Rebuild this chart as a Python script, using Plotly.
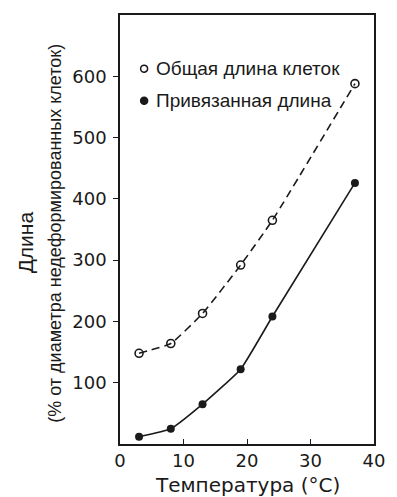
import plotly.graph_objects as go

# Temperature (°C)
temperature = [3, 8, 13, 19, 24, 37]
# Total cell length, % of undeformed cell diameter
total_length = [148, 164, 213, 292, 365, 588]
# Attached length, % of undeformed cell diameter
attached_length = [12, 25, 65, 122, 208, 426]

x_ticks = [0, 10, 20, 30, 40]
y_ticks = [100, 200, 300, 400, 500, 600]
legend_labels = ["Общая длина клеток", "Привязанная длина"]

FONT = "Liberation Sans"
WIDE = "DejaVu Sans"
INK = "#1a1a1a"

fig = go.Figure()

fig.add_trace(go.Scatter(
    x=temperature, y=total_length, mode="lines+markers",
    line=dict(color=INK, width=1.6, dash="8px,5px", shape="spline", smoothing=0.4),
    marker=dict(symbol="circle-open", size=8, color=INK, line=dict(width=1.6)),
    showlegend=False,
))
fig.add_trace(go.Scatter(
    x=temperature, y=attached_length, mode="lines+markers",
    line=dict(color=INK, width=1.6, shape="spline", smoothing=0.4),
    marker=dict(symbol="circle", size=8, color=INK),
    showlegend=False,
))

axis_common = dict(
    showgrid=False, zeroline=False, showline=True, mirror=True,
    linecolor=INK, linewidth=1.5, ticklen=5, tickwidth=1.3,
    tickcolor=INK, tickfont=dict(family=WIDE, size=18, color=INK),
)

fig.update_xaxes(range=[0, 40], tickvals=x_ticks, ticks="inside", **axis_common)
fig.update_yaxes(range=[0, 700], tickvals=y_ticks, ticks="outside", ticklabelstandoff=3, **axis_common)

# Axis titles
fig.add_annotation(text="Температура (°C)", xref="paper", yref="paper",
                   x=0.5, y=0, yshift=-41, showarrow=False, yanchor="middle",
                   font=dict(family=WIDE, size=20, color=INK))
fig.add_annotation(text="Длина", xref="paper", yref="paper", x=0, xshift=-95,
                   y=0.47, textangle=-90, showarrow=False, xanchor="center",
                   font=dict(family=FONT, size=21, color=INK))
fig.add_annotation(text="(% от диаметра недеформированных клеток)", xref="paper", yref="paper",
                   x=0, xshift=-65, y=0.49, textangle=-90, showarrow=False, xanchor="center",
                   font=dict(family=FONT, size=18, color=INK))

# Legend drawn inside the plotting area
legend_rows = [(0.875, False), (0.80, True)]
for (ypos, filled), label in zip(legend_rows, legend_labels):
    fig.add_shape(type="circle", xref="paper", yref="paper",
                  xsizemode="pixel", ysizemode="pixel",
                  xanchor=0.095, yanchor=ypos, x0=-3.5, x1=3.5, y0=-3.5, y1=3.5,
                  line=dict(color=INK, width=1.5),
                  fillcolor=INK if filled else "white")
    fig.add_annotation(text=label, xref="paper", yref="paper", x=0.135, y=ypos,
                       xanchor="left", yanchor="middle", showarrow=False,
                       font=dict(family=FONT, size=19, color=INK))

fig.update_layout(
    width=397, height=497,
    margin=dict(l=120, r=13, t=15, b=53),
    paper_bgcolor="white", plot_bgcolor="white",
)

fig.write_html("out.html")
